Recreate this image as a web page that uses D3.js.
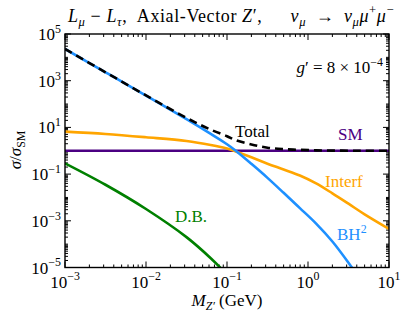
<!DOCTYPE html>
<html>
<head>
<meta charset="utf-8">
<script src="https://cdn.jsdelivr.net/npm/d3@7"></script>
<style>
body { margin: 0; background: #fff; }
</style>
</head>
<body>
<div id="chart"></div>
<script>
// values (sigma / sigma_SM vs M_Z' in GeV)
const massGeV   = [0.001, 0.00316, 0.01, 0.0316, 0.063, 0.1, 0.126, 0.2, 0.316, 0.5, 0.794, 1.26, 2.0, 3.16, 5.0, 10];
const bhSq      = [2.3e4, 2290, 229, 22.4, 5.25, 1.9, 1.05, 0.275, 0.069, 0.0158, 3.5e-3, 7.6e-4, 1.3e-4, 1.6e-5, 1.6e-6, null];
const interf    = [6.6, 5.25, 3.8, 2.63, 1.78, 1.26, 0.955, 0.525, 0.28, 0.158, 0.087, 0.04, 0.015, 5.4e-3, 1.9e-3, 4.5e-4];
const darkBrem  = [0.29, 0.035, 3.2e-3, 2.0e-4, 2.5e-5, 5e-6, null, null, null, null, null, null, null, null, null, null];
const smRatio   = [1, 1, 1, 1, 1, 1, 1, 1, 1, 1, 1, 1, 1, 1, 1, 1];
const total     = [2.3e4, 2300, 235, 25.6, 8.0, 4.2, 2.9, 1.85, 1.35, 1.17, 1.09, 1.04, 1.015, 1.005, 1.002, 1.0];

const xTickExp = [-3, -2, -1, 0, 1];
const yTickExp = [-5, -3, -1, 1, 3, 5];

const width = 406, height = 316;
const margin = {top: 34, right: 17, bottom: 48.5, left: 65};
const serif = 'Liberation Serif';

const svg = d3.select('#chart').append('svg')
    .attr('width', width)
    .attr('height', height);

const x = d3.scaleLog().domain([1e-3, 10]).range([margin.left, width - margin.right]);
const y = d3.scaleLog().domain([1e-5, 1e5]).range([height - margin.bottom, margin.top]);

svg.append('clipPath').attr('id', 'plotClip')
  .append('rect')
    .attr('x', margin.left).attr('y', margin.top)
    .attr('width', x.range()[1] - x.range()[0])
    .attr('height', y.range()[0] - y.range()[1]);

// ticks, inward on all four sides
const xMajor = d3.range(-3, 2).map(e => Math.pow(10, e));
const xMinor = [];
d3.range(-3, 1).forEach(e => d3.range(2, 10).forEach(s => xMinor.push(s * Math.pow(10, e))));
const yMajor = yTickExp.map(e => Math.pow(10, e));
const yMinor = [];
d3.range(-5, 5).forEach(e => d3.range(1, 10).forEach(s => {
    if (s === 1 && (e + 5) % 2 === 0) return;
    yMinor.push(s * Math.pow(10, e));
}));

const axisG = svg.append('g').attr('stroke', '#000');
const bottomY = y.range()[0], topY = y.range()[1];
const leftX = x.range()[0], rightX = x.range()[1];

function drawTicks(vals, len) {
    vals.forEach(v => {
        const px = x(v);
        axisG.append('line').attr('x1', px).attr('x2', px).attr('y1', bottomY).attr('y2', bottomY - len).attr('stroke-width', 1);
        axisG.append('line').attr('x1', px).attr('x2', px).attr('y1', topY).attr('y2', topY + len).attr('stroke-width', 1);
    });
}
function drawYTicks(vals, len) {
    vals.forEach(v => {
        const py = y(v);
        axisG.append('line').attr('y1', py).attr('y2', py).attr('x1', leftX).attr('x2', leftX + len).attr('stroke-width', 1);
        axisG.append('line').attr('y1', py).attr('y2', py).attr('x1', rightX).attr('x2', rightX - len).attr('stroke-width', 1);
    });
}
drawTicks(xMajor, 6);
drawTicks(xMinor, 3);
drawYTicks(yMajor, 6);
drawYTicks(yMinor, 3);

// rich text helper: parts = [{t, i, sup, sub}]
function rich(sel, parts, size) {
    sel.attr('font-family', serif).attr('xml:space', 'preserve');
    let shift = 0;
    parts.forEach(p => {
        const ts = sel.append('tspan').attr('font-family', serif).text(p.t);
        let target = 0;
        if (p.sup) target = -size * 0.42;
        if (p.sub) target = size * 0.22;
        if (target !== shift) { ts.attr('dy', target - shift); shift = target; }
        if (p.sup || p.sub) ts.attr('font-size', size * 0.7);
        if (p.i) ts.attr('font-style', 'italic');
    });
}

const minus = '\u2212';
const labelSize = 17;

xTickExp.forEach(e => {
    const t = svg.append('text')
        .attr('x', x(Math.pow(10, e)))
        .attr('y', bottomY + 20)
        .attr('text-anchor', 'middle')
        .attr('font-size', labelSize);
    rich(t, [{t: '10'}, {t: (e < 0 ? minus : '') + Math.abs(e), sup: true}], labelSize);
});
yTickExp.forEach(e => {
    const t = svg.append('text')
        .attr('x', leftX - 4)
        .attr('y', y(Math.pow(10, e)) + 6)
        .attr('text-anchor', 'end')
        .attr('font-size', labelSize);
    rich(t, [{t: '10'}, {t: (e < 0 ? minus : '') + Math.abs(e), sup: true}], labelSize);
});

// curves
const line = d3.line()
    .defined(d => d[1] != null)
    .x(d => x(d[0]))
    .y(d => y(d[1]))
    .curve(d3.curveCatmullRom.alpha(0.5));

const series = [
    {vals: smRatio, color: '#4B0082'},
    {vals: darkBrem, color: '#008000'},
    {vals: interf, color: '#FFA500'},
    {vals: bhSq, color: '#1E90FF'},
    {vals: total, color: '#000', dash: '8,5'}
];
const plot = svg.append('g').attr('clip-path', 'url(#plotClip)');
series.forEach(s => {
    plot.append('path')
        .datum(massGeV.map((m, i) => [m, s.vals[i]]))
        .attr('fill', 'none')
        .attr('stroke', s.color)
        .attr('stroke-width', 2.6)
        .attr('stroke-dasharray', s.dash || null)
        .attr('d', line);
});

// frame
svg.append('rect')
    .attr('x', leftX).attr('y', topY)
    .attr('width', rightX - leftX).attr('height', bottomY - topY)
    .attr('fill', 'none').attr('stroke', '#000').attr('stroke-width', 1.4);

// curve labels
const curveLabels = [
    {t: [{t: 'Total'}], x: 235, y: 137, color: '#000'},
    {t: [{t: 'SM'}], x: 338, y: 140, color: '#4B0082'},
    {t: [{t: 'Interf'}], x: 325, y: 187, color: '#FFA500'},
    {t: [{t: 'D.B.'}], x: 175, y: 222, color: '#008000'},
    {t: [{t: 'BH'}, {t: '2', sup: true}], x: 337, y: 240, color: '#1E90FF'}
];
curveLabels.forEach(l => {
    const t = svg.append('text').attr('x', l.x).attr('y', l.y)
        .attr('font-size', labelSize).attr('fill', l.color);
    rich(t, l.t, labelSize);
});

// coupling
const g = svg.append('text').attr('x', 383).attr('y', 73)
    .attr('text-anchor', 'end').attr('font-size', labelSize);
rich(g, [{t: 'g', i: true}, {t: '\u2032 = 8 \u00d7 10'}, {t: minus + '4', sup: true}], labelSize);

// title
const title = svg.append('text').attr('x', 231).attr('y', 22)
    .attr('text-anchor', 'middle').attr('font-size', 18)
    .attr('letter-spacing', 0.6);
rich(title, [
    {t: 'L', i: true}, {t: '\u03bc', i: true, sub: true},
    {t: ' ' + minus + ' '}, {t: 'L', i: true}, {t: '\u03c4', i: true, sub: true},
    {t: ',\u2002Axial-Vector '}, {t: 'Z', i: true}, {t: '\u2032,\u2003\u2002'},
    {t: '\u03bd', i: true}, {t: '\u03bc', i: true, sub: true},
    {t: '\u2002\u2192\u2002'}, {t: '\u03bd', i: true}, {t: '\u03bc', i: true, sub: true},
    {t: '\u03bc', i: true}, {t: '+', sup: true}, {t: '\u03bc', i: true}, {t: minus, sup: true}
], 18);

// axis titles
const xl = svg.append('text').attr('x', 227).attr('y', 306)
    .attr('text-anchor', 'middle').attr('font-size', labelSize);
rich(xl, [{t: 'M', i: true}, {t: 'Z\u2032', i: true, sub: true}, {t: ' (GeV)'}], labelSize);

const yl = svg.append('text')
    .attr('transform', 'translate(21,150) rotate(-90)')
    .attr('text-anchor', 'middle').attr('font-size', labelSize);
rich(yl, [{t: '\u03c3', i: true}, {t: '/'}, {t: '\u03c3', i: true}, {t: 'SM', sub: true}], labelSize);
</script>
</body>
</html>
